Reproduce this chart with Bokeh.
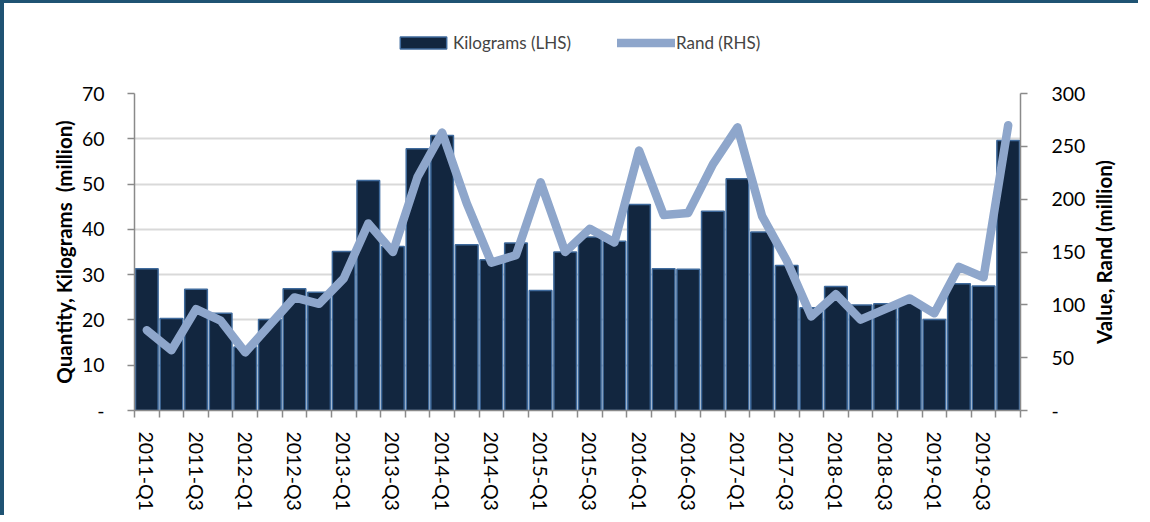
import math
from bokeh.plotting import figure
from bokeh.layouts import column, row
from bokeh.models import (Range1d, LinearAxis, FixedTicker, Legend, ColumnDataSource, Title)
from bokeh.embed import file_html
from bokeh.resources import INLINE

years = [2011, 2012, 2013, 2014, 2015, 2016, 2017, 2018, 2019]
quarter_names = ["Q1", "Q2", "Q3", "Q4"]
quarters = [f"{y}-{q}" for y in years for q in quarter_names]

kilograms = [31.3, 20.3, 26.8, 21.5, 14.0, 20.1, 26.9, 26.1, 35.1, 50.8, 36.2, 57.8,
             60.7, 36.6, 33.3, 37.0, 26.5, 35.0, 38.3, 37.4, 45.5, 31.3, 31.2, 44.0,
             51.2, 39.4, 32.0, 22.7, 27.4, 23.3, 23.6, 24.0, 20.1, 28.0, 27.5, 59.6]

rand = [76, 57, 96, 85, 55, 81, 107, 101, 125, 177, 150, 221,
        263, 196, 140, 147, 216, 150, 172, 159, 246, 185, 187, 233,
        268, 184, 142, 89, 110, 86, 96, 106, 92, 136, 126, 270]

left_ticks = [0, 10, 20, 30, 40, 50, 60, 70]
right_ticks = [0, 50, 100, 150, 200, 250, 300]

FONT = "Lato"
BAR_FILL = "#12263F"
BAR_EDGE = "#3F6A9C"
LINE_COLOR = "#8EA6CB"
AXIS_COLOR = "#8A8A8A"
FRAME_COLOR = "#1F5373"

bar_style = dict(fill_color=BAR_FILL, line_color=BAR_EDGE, line_width=1.5)
line_style = dict(line_color=LINE_COLOR, line_width=8.5, line_join="round", line_cap="round")

xs = list(range(len(quarters)))
src = ColumnDataSource(dict(x=xs, kg=kilograms, rand=rand, q=quarters))

# ---------------- main chart ----------------
p = figure(width=1088, height=455, output_backend="svg", toolbar_location=None,
           x_range=Range1d(-0.5, len(quarters) - 0.5),
           y_range=Range1d(left_ticks[0], left_ticks[-1]),
           min_border_left=130, min_border_right=72, min_border_top=33,
           min_border_bottom=105)
p.styles = {"border-left": f"4px solid {FRAME_COLOR}"}
p.outline_line_color = None
p.background_fill_color = "white"
p.border_fill_color = "white"
p.extra_y_ranges = {"rand": Range1d(right_ticks[0], right_ticks[-1])}

p.vbar(x="x", top="kg", width=0.92, bottom=0, source=src, **bar_style)
p.line(x="x", y="rand", source=src, y_range_name="rand", **line_style)

p.xgrid.visible = False
p.ygrid.ticker = FixedTicker(ticks=left_ticks[1:])
p.ygrid.grid_line_color = "#D9D9D9"
p.ygrid.grid_line_width = 2

xa = p.xaxis[0]
xa.ticker = FixedTicker(ticks=list(range(0, len(quarters), 2)),
                        minor_ticks=[i - 0.5 for i in range(len(quarters) + 1)])
xa.major_label_overrides = {i: quarters[i] for i in range(0, len(quarters), 2)}
xa.major_label_orientation = -math.pi / 2
xa.major_tick_in = 0
xa.major_tick_out = 0
xa.minor_tick_in = 0
xa.minor_tick_out = 7
xa.minor_tick_line_color = AXIS_COLOR
xa.minor_tick_line_width = 1.5
xa.axis_line_color = AXIS_COLOR
xa.axis_line_width = 1.5
xa.major_label_standoff = 14
xa.major_label_text_font = FONT
xa.major_label_text_font_size = "19.5px"
xa.major_label_text_color = "black"

ya = p.yaxis[0]
ya.ticker = FixedTicker(ticks=left_ticks)
ya.major_label_overrides = {0: "-"}
ya.axis_label = "Quantity, Kilograms \u00a0(million)"

ra = LinearAxis(y_range_name="rand", ticker=FixedTicker(ticks=right_ticks))
ra.major_label_overrides = {0: "-"}
p.add_layout(ra, "right")

for ax in (ya, ra):
    ax.major_tick_in = 0
    ax.major_tick_out = 7
    ax.minor_tick_in = 0
    ax.minor_tick_out = 0
    ax.major_tick_line_color = AXIS_COLOR
    ax.major_tick_line_width = 1.5
    ax.axis_line_color = AXIS_COLOR
    ax.axis_line_width = 1.5
    ax.major_label_text_font = FONT
    ax.major_label_text_font_size = "19.5px"
    ax.major_label_text_color = "black"
    ax.axis_label_text_font = FONT
    ax.axis_label_text_font_style = "bold"
    ax.axis_label_text_color = "black"
    ax.axis_label_text_font_size = "20.5px"

ya.major_label_standoff = 23
ya.axis_label_standoff = 3
ra.major_label_standoff = 24

# ---------------- right-hand axis title (reads bottom-to-top) ----------------
side = figure(width=50, height=455, output_backend="svg", toolbar_location=None,
              x_axis_type=None, y_axis_type=None,
              x_range=Range1d(0, 1), y_range=Range1d(0, 1),
              min_border_left=0, min_border_right=0, min_border_top=33,
              min_border_bottom=105)
side.outline_line_color = None
side.grid.visible = False
side.background_fill_color = "white"
side.border_fill_color = "white"
side.add_layout(Title(text="Value, Rand (million)", align="center", offset=-34,
                      text_font=FONT, text_font_size="20.5px", text_font_style="bold",
                      text_color="black", standoff=2), "left")

# ---------------- legend strip ----------------
lg = figure(width=1138, height=60, output_backend="svg", toolbar_location=None,
            x_axis_type=None, y_axis_type=None,
            x_range=Range1d(-3, -2), y_range=Range1d(0, 1),
            min_border_left=130, min_border_right=0, min_border_top=0, min_border_bottom=0)
lg.styles = {"border-top": f"3px solid {FRAME_COLOR}",
             "border-left": f"4px solid {FRAME_COLOR}"}
lg.outline_line_color = None
lg.grid.visible = False
lg.background_fill_color = "white"
lg.border_fill_color = "white"
# keys reuse the chart's data; the strip's x range lies outside it, so only the legend shows
key_bar = lg.vbar(x="x", top="kg", width=0.92, source=src, **bar_style)
key_line = lg.line(x="x", y="rand", source=src, **line_style)

legend = Legend(items=[("Kilograms (LHS)", [key_bar]), ("Rand (RHS)", [key_line])],
                orientation="horizontal", location=(260, 10),
                label_text_font=FONT, label_text_font_size="17px",
                glyph_width=58, glyph_height=15, spacing=46, padding=0, margin=0,
                label_standoff=1, border_line_alpha=0, background_fill_alpha=0)
lg.add_layout(legend, "center")

layout = column(lg, row(p, side, spacing=0), spacing=0)
open("out.html", "w").write(file_html(layout, INLINE))
